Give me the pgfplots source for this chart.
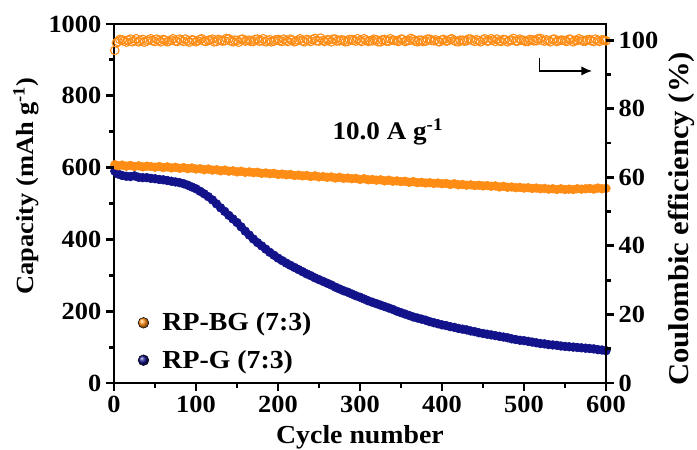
\documentclass[border=0pt]{standalone}
\usepackage{pgfplots}
\usepackage{pgfplotstable}
\pgfplotsset{compat=1.18}
\usetikzlibrary{arrows.meta}
\usepackage{fontspec}
\setmainfont{Liberation Serif}[FakeStretch=1.07]
\definecolor{cOr}{RGB}{255,140,20}
\definecolor{cNv}{RGB}{18,18,138}
\pgfplotstableread{
x cbg cg ce x2 ce2
1 608 590 97.0 3 99.2
5 605 582 99.6 7 100.2
10 607 578 100.1 12 99.7
15 604 576 99.4 17 100.0
20 606 575 100.3 22 99.5
25 603 577 99.8 27 100.4
30 605 573 99.5 32 99.9
35 602 572 100.2 37 99.4
40 604 572 99.7 42 100.1
45 603 570 100.4 47 99.8
50 601 569 99.6 52 100.3
55 603 567 99.9 57 99.5
60 600 566 100.2 62 100.0
65 602 564 99.5 67 99.7
70 599 562 100.0 72 100.4
75 601 560 99.7 77 99.6
80 598 558 100.3 82 99.9
85 600 555 99.6 87 100.3
90 597 551 99.8 92 99.4
95 599 546 100.1 97 100.0
100 596 541 99.5 102 99.8
105 597 534 100.2 107 100.4
110 594 527 99.7 112 99.6
115 596 519 99.9 117 100.1
120 593 510 100.3 122 99.5
125 594 499 99.6 127 100.2
130 591 488 100.0 132 99.7
135 593 478 99.8 137 100.5
140 590 467 100.4 142 99.8
145 591 457 99.5 147 100.0
150 588 447 99.9 152 99.4
155 590 435 100.2 157 100.3
160 587 423 99.7 162 99.9
165 588 412 100.0 167 99.6
170 586 401 99.6 172 100.2
175 587 391 100.3 177 99.7
180 584 382 99.8 182 100.4
185 585 373 99.5 187 99.9
190 583 364 100.1 192 99.5
195 584 356 99.7 197 100.1
200 581 348 100.2 202 99.8
205 582 341 99.6 207 100.3
210 580 334 99.9 212 99.6
215 581 328 100.3 217 100.0
220 578 322 99.5 222 99.7
225 579 316 100.0 227 100.4
230 577 310 99.8 232 99.5
235 578 304 100.2 237 99.9
240 575 299 99.6 242 100.2
245 577 293 100.5 247 99.8
250 574 288 99.7 252 100.6
255 575 283 99.9 257 99.6
260 573 278 100.1 262 100.0
265 574 273 99.5 267 100.3
270 571 267 100.3 272 99.7
275 573 262 99.8 277 100.1
280 570 257 100.0 282 99.5
285 571 253 99.6 287 100.2
290 569 248 100.2 292 99.9
295 570 243 99.7 297 100.4
300 567 239 99.9 302 99.6
305 569 234 100.4 307 100.0
310 566 229 99.6 312 99.8
315 567 225 99.8 317 100.3
320 565 221 100.1 322 99.5
325 566 217 99.5 327 100.1
330 563 213 100.2 332 99.7
335 565 209 99.7 337 100.4
340 562 205 100.0 342 99.9
345 563 200 99.8 347 99.6
350 561 196 100.3 352 100.2
355 562 192 99.6 357 99.8
360 559 188 99.9 362 100.5
365 561 184 100.2 367 99.7
370 558 181 99.5 372 100.0
375 559 178 100.0 377 99.6
380 557 175 99.7 382 100.3
385 558 171 100.3 387 99.9
390 556 168 99.8 392 100.1
395 557 165 99.6 397 99.5
400 555 162 100.1 402 100.2
405 556 160 99.7 407 99.8
410 553 157 100.2 412 100.4
415 555 155 99.9 417 99.6
420 552 152 99.5 422 100.0
425 553 150 100.0 427 99.7
430 551 148 99.8 432 100.3
435 552 145 100.3 437 99.9
440 550 143 99.6 442 100.1
445 551 140 99.9 447 99.5
450 549 138 100.1 452 100.4
455 550 136 99.7 457 99.8
460 548 134 100.4 462 100.0
465 549 132 99.6 467 100.3
470 546 130 99.8 472 99.6
475 548 128 100.2 477 100.1
480 545 126 99.5 482 99.9
485 546 123 100.0 487 100.5
490 544 121 99.7 492 99.7
495 545 119 100.3 497 100.0
500 543 118 99.9 502 99.6
505 544 116 99.6 507 100.2
510 542 114 100.1 512 99.8
515 543 112 99.8 517 100.4
520 541 110 100.5 522 99.9
525 542 109 99.7 527 100.1
530 540 107 99.9 532 99.5
535 541 106 100.2 537 100.3
540 539 105 99.6 542 99.8
545 541 103 100.0 547 100.0
550 539 102 99.8 552 99.6
555 540 101 100.3 557 100.2
560 539 100 99.5 562 99.9
565 541 99 99.9 567 100.4
570 540 98 100.1 572 99.7
575 541 97 99.7 577 100.1
580 542 96 100.2 582 99.8
585 540 95 99.6 587 100.3
590 543 93 99.9 592 99.6
595 541 92 100.1 597 100.0
600 542 90 99.8 598 99.9
}\datatable
\newcommand{\bigfont}{\fontsize{19.5}{22}\selectfont\bfseries}
\pgfplotsset{
  myaxis/.style={
    scale only axis, width=369pt, height=269.25pt,
    xmin=0, xmax=600,
    axis line style={line width=2.2pt},
    tick align=outside,
    major tick length=6pt, minor tick length=3.5pt,
    major tick style={line width=2.2pt, black},
    minor tick style={line width=2.2pt, black},
    tick label style={font=\fontsize{18.5}{20}\selectfont\bfseries},
    /pgf/number format/assume math mode=true,
    /pgf/number format/1000 sep={},
    clip=false,
  }
}
\begin{document}
\begin{tikzpicture}
\useasboundingbox (-85.5pt,-50.25pt) rectangle (437.25pt,287.25pt);
\begin{axis}[myaxis,
  ymin=0, ymax=1000,
  xtick={0,100,...,600}, minor xtick={50,150,...,550},
  ytick={0,200,...,1000}, minor ytick={100,300,...,900},
  xtick pos=left, ytick pos=left,
  xlabel={Cycle number},
  ylabel={Capacity (mAh g\textsuperscript{-1})},
  every axis x label/.style={at={(axis description cs:0.5,-0.15)}, anchor=center, font=\bigfont},
  every axis y label/.style={at={(axis description cs:-0.179,0.549)}, rotate=90, anchor=center, font=\fontsize{18.5}{22}\selectfont\bfseries},
  legend style={at={(axis description cs:0.048,0.2)}, anchor=north west, draw=none, fill=none,
    font=\bigfont, row sep=11pt, column sep=9pt, inner sep=0pt, nodes={inner sep=1pt},
    legend cell align=left},
]
\addplot[only marks, mark=*, mark size=3.3pt, color=cNv, mark options={fill=cNv, draw=cNv}, forget plot] table[x=x, y=cg] {\datatable};
\addplot[only marks, mark=*, mark size=3.3pt, color=cOr, mark options={fill=cOr, draw=cOr}, forget plot] table[x=x, y=cbg] {\datatable};
\addlegendimage{only marks, mark=ball, mark size=4pt, ball color=cOr}
\addlegendentry{RP-BG (7:3)}
\addlegendimage{only marks, mark=ball, mark size=4pt, ball color=cNv}
\addlegendentry{RP-G (7:3)}
\node[font=\fontsize{19}{22}\selectfont\bfseries, anchor=center] at (axis cs:334,699) {10.0 A g\textsuperscript{-1}};
\end{axis}
\begin{axis}[myaxis,
  ymin=0, ymax=104.7,
  axis x line=none,
  axis y line*=right,
  ytick={0,20,...,100}, minor ytick={10,30,...,90},
  ylabel={Coulombic efficiency (\%)},
  every axis y label/.style={at={(axis description cs:1.154,0.457)}, rotate=90, anchor=center, font=\fontsize{21.5}{24}\selectfont\bfseries},
]
\addplot[only marks, mark=o, mark size=3.2pt, color=cOr, mark options={fill=white, draw=cOr, line width=0.8pt}] table[x=x, y=ce] {\datatable};
\addplot[only marks, mark=o, mark size=3.2pt, color=cOr, mark options={fill=white, draw=cOr, line width=0.8pt}] table[x=x2, y=ce2] {\datatable};
\draw[line width=1.3pt, -{Latex[length=8pt,width=7pt]}] (axis cs:519,94.7) -- (axis cs:519,91.0) -- (axis cs:583,91.0);
\end{axis}
% tick stubs (axis box: 369pt x 269.25pt, lower left at origin)
\begin{scope}[line width=2.2pt, black]
\foreach \v in {0,100,...,600} \draw ({\v*0.615pt},0pt) -- ({\v*0.615pt},-5.5pt);
\foreach \v in {50,150,...,550} \draw ({\v*0.615pt},0pt) -- ({\v*0.615pt},-3.3pt);
\foreach \v in {0,200,...,1000} \draw (0pt,{\v*0.26925pt}) -- (-5.5pt,{\v*0.26925pt});
\foreach \v in {100,300,...,900} \draw (0pt,{\v*0.26925pt}) -- (-3.3pt,{\v*0.26925pt});
\foreach \v in {0,20,...,100} \draw (369pt,{\v*2.57163pt}) -- (374.5pt,{\v*2.57163pt});
\foreach \v in {10,30,...,90} \draw (369pt,{\v*2.57163pt}) -- (372.3pt,{\v*2.57163pt});
\end{scope}
\end{tikzpicture}
\end{document}
